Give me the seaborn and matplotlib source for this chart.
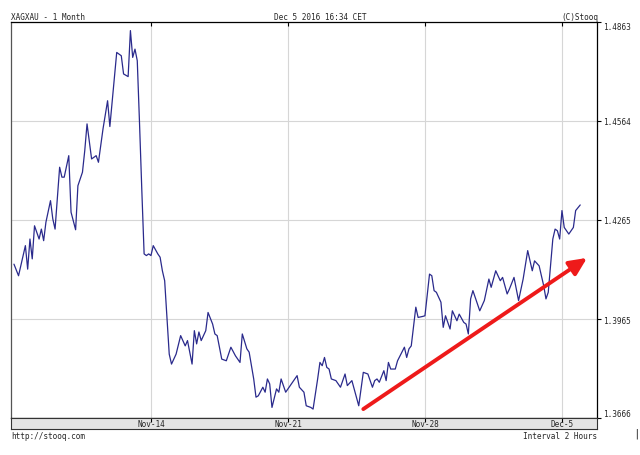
import matplotlib
matplotlib.use('Agg')
import matplotlib.pyplot as plt
import matplotlib.transforms as mtransforms
import seaborn as sns

# trading hours since Nov 7 (weekends left out) and XAG/XAU ratio
hours = [0, 4, 10, 12, 14, 16, 18, 22, 24, 26, 28, 32, 34, 36, 40, 42, 44, 48, 50, 54,
         56, 60, 62, 64, 68, 72, 74, 78, 82, 84, 88, 90, 94, 96, 100, 102, 104, 106, 108, 110,
         112, 114, 116, 118, 120, 122, 126, 128, 130, 132, 136, 138, 142, 146, 150, 152, 156, 158, 160, 162,
         164, 168, 170, 174, 176, 178, 182, 186, 190, 194, 198, 200, 204, 206, 210, 212, 214, 218, 220, 222,
         224, 226, 230, 232, 234, 238, 242, 248, 250, 254, 256, 260, 262, 266, 268, 270, 272, 274, 276, 278,
         282, 286, 290, 292, 296, 298, 302, 306, 310, 312, 314, 316, 318, 320, 324, 326, 328, 330, 334, 336,
         342, 344, 346, 348, 352, 354, 358, 360, 364, 366, 368, 370, 374, 376, 378, 382, 384, 388, 390, 394,
         396, 398, 400, 402, 406, 408, 412, 416, 418, 422, 426, 428, 432, 434, 438, 442, 446, 450, 454, 456,
         460, 464, 466, 468, 472, 474, 476, 478, 480, 482, 486, 490, 492, 496]
values = [1.4131, 1.4096, 1.4187, 1.4116, 1.4207, 1.4147, 1.4247, 1.4207, 1.4237, 1.4202,
          1.4258, 1.4323, 1.4268, 1.4237, 1.4424, 1.4394, 1.4394, 1.4459, 1.4288, 1.4235,
          1.4368, 1.4409, 1.4474, 1.4555, 1.4449, 1.4459, 1.4439, 1.4540, 1.4625, 1.4547,
          1.4696, 1.4771, 1.4761, 1.4706, 1.4698, 1.4837, 1.4756, 1.4781, 1.4746, 1.4555,
          1.4353, 1.4162, 1.4157, 1.4162, 1.4157, 1.4187, 1.4162, 1.4152, 1.4111, 1.4081,
          1.3859, 1.3829, 1.3859, 1.3915, 1.3884, 1.3900, 1.3829, 1.3930, 1.3890, 1.3926,
          1.3900, 1.3930, 1.3985, 1.3950, 1.3920, 1.3915, 1.3844, 1.3839, 1.3880, 1.3854,
          1.3834, 1.3920, 1.3875, 1.3865, 1.3784, 1.3729, 1.3733, 1.3759, 1.3744, 1.3784,
          1.3769, 1.3698, 1.3754, 1.3744, 1.3784, 1.3744, 1.3764, 1.3794, 1.3759, 1.3744,
          1.3703, 1.3698, 1.3693, 1.3784, 1.3834, 1.3824, 1.3849, 1.3819, 1.3814, 1.3784,
          1.3779, 1.3759, 1.3799, 1.3764, 1.3779, 1.3754, 1.3703, 1.3804, 1.3799, 1.3779,
          1.3759, 1.3779, 1.3784, 1.3774, 1.3809, 1.3779, 1.3834, 1.3814, 1.3814, 1.3839,
          1.3880, 1.3849, 1.3875, 1.3884, 1.4001, 1.3970, 1.3973, 1.3975, 1.4101, 1.4096,
          1.4051, 1.4046, 1.4016, 1.3940, 1.3975, 1.3935, 1.3990, 1.3960, 1.3980, 1.3955,
          1.3950, 1.3920, 1.4026, 1.4051, 1.4011, 1.3990, 1.4021, 1.4086, 1.4061, 1.4111,
          1.4081, 1.4091, 1.4041, 1.4056, 1.4091, 1.4021, 1.4086, 1.4172, 1.4111, 1.4141,
          1.4126, 1.4066, 1.4026, 1.4046, 1.4207, 1.4237, 1.4232, 1.4207, 1.4293, 1.4242,
          1.4222, 1.4242, 1.4293, 1.4310]

tick_hours = [120, 240, 360, 480]
tick_labels = ['Nov-14', 'Nov-21', 'Nov-28', 'Dec-5']
y_ticks = [1.3666, 1.3965, 1.4265, 1.4564, 1.4863]
arrow_start = (306, 1.3693)
arrow_end = (502, 1.4150)

sns.set_style('white')
plt.rcParams['font.family'] = ['DejaVu Sans Mono']
fs = 5.6

fig = plt.figure(figsize=(6.4, 4.56), dpi=100)
ax = fig.add_axes([11/640, 1-419/456, 586/640, 396/456])
sns.lineplot(x=hours, y=values, ax=ax, color='#2a2a8c', linewidth=0.9)
ax.set_xlim(-2.6, 510.7)
ax.set_ylim(y_ticks[0], y_ticks[-1])
ax.set_xticks(tick_hours)
ax.set_yticks(y_ticks)
ax.set_yticklabels([f'{t:.4f}' for t in y_ticks])
ax.grid(True, color='#d6d6d6', linewidth=0.8)
ax.tick_params(axis='x', top=True, bottom=False, labeltop=False, labelbottom=False,
               direction='in', length=3, width=0.8, color='black')
ax.tick_params(axis='y', left=False, right=True, labelleft=False, labelright=True,
               direction='out', length=3, width=0.8, color='black', labelsize=fs, pad=1.5)
labs = ax.get_yticklabels()
labs[0].set_verticalalignment('bottom')
labs[-1].set_verticalalignment('top')
for side in ['top', 'right', 'bottom']:
    ax.spines[side].set_color('black')
    ax.spines[side].set_linewidth(0.9)
ax.spines['left'].set_color('#555555')
ax.spines['left'].set_linewidth(0.9)

# the trend arrow
ax.annotate('', xy=arrow_end, xytext=arrow_start,
            arrowprops=dict(arrowstyle='-|>,head_length=0.75,head_width=0.35', color='#ee1a1a',
                            lw=2.8, mutation_scale=14, shrinkA=0, shrinkB=0))

# date band under the chart
bax = fig.add_axes([11/640, 1-429.5/456, 586/640, 10.5/456])
bax.set_facecolor('#e4e4e4')
bax.set_xlim(ax.get_xlim())
bax.set_ylim(0, 1)
bax.set_xticks(tick_hours)
bax.set_yticks([])
bax.tick_params(axis='x', top=True, bottom=False, labelbottom=False, direction='in',
                length=3, width=0.8, color='black')
for s in bax.spines.values():
    s.set_color('#333333')
    s.set_linewidth(0.8)
trans = mtransforms.blended_transform_factory(bax.transData, bax.transAxes)
for h, lab in zip(tick_hours, tick_labels):
    bax.text(h, 0.45, lab, transform=trans, ha='center', va='center', fontsize=fs)

fig.text(11/640, 1-17/456, 'XAGXAU - 1 Month', ha='left', va='center', fontsize=fs)
fig.text(320/640, 1-17/456, 'Dec 5 2016 16:34 CET', ha='center', va='center', fontsize=fs)
fig.text(598/640, 1-17/456, '(C)Stooq', ha='right', va='center', fontsize=fs)
fig.text(11/640, 1-437/456, 'http://stooq.com', ha='left', va='center', fontsize=fs)
fig.text(597/640, 1-437/456, 'Interval 2 Hours', ha='right', va='center', fontsize=fs)
fig.text(636/640, 1-434/456, '|', ha='center', va='center', fontsize=8)

fig.savefig('out.png', dpi=100)
